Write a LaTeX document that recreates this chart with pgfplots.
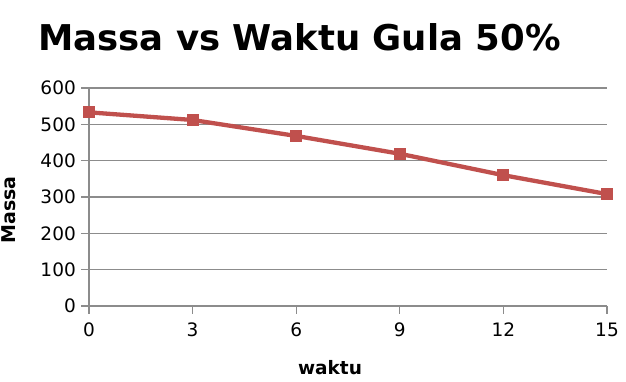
\documentclass[border=0pt]{standalone}
\usepackage{fontspec}
\setmainfont{DejaVu Sans}
\usepackage{pgfplots}
\pgfplotsset{compat=1.18}
\definecolor{serred}{HTML}{C0504D}
\definecolor{gridgray}{HTML}{8C8C8C}
\begin{document}
\begin{tikzpicture}
\useasboundingbox (0,0) rectangle (626bp,382bp);
\begin{axis}[
  at={(89bp,76bp)}, anchor=south west,
  scale only axis,
  width=518bp, height=218bp,
  xmin=0, xmax=15, ymin=0, ymax=600,
  xtick={0,3,6,9,12,15},
  ytick={0,100,200,300,400,500,600},
  axis line style={gridgray, line width=1.2bp},
  axis x line*=bottom,
  axis y line*=left,
  ymajorgrids,
  major grid style={gridgray, line width=1.2bp},
  tick align=outside,
  major tick length=8bp,
  tick style={gridgray, line width=1.2bp},
  xtick pos=bottom, ytick pos=left,
  /pgf/number format/assume math mode=true,
  tick label style={font=\fontsize{18.5bp}{22bp}\selectfont, text=black},
  yticklabel style={inner sep=0pt, xshift=-5bp},
  xticklabel style={inner sep=0pt, yshift=-9bp},
  clip=false,
]
\addplot[serred, line width=4.3bp, mark=square*, mark size=5.5bp,
  mark options={fill=serred, draw=serred, line width=0pt}]
  coordinates {(0,533) (3,512) (6,468) (9,419) (12,360) (15,308)};
\end{axis}
\node[anchor=west, inner sep=0pt, font=\fontsize{35.5bp}{40bp}\selectfont\bfseries] at (38bp,345bp) {Massa vs Waktu Gula 50\%};
\node[inner sep=0pt, font=\fontsize{18.5bp}{22bp}\selectfont\bfseries] at (330bp,14bp) {waktu};
\node[rotate=90, inner sep=0pt, font=\fontsize{19bp}{22bp}\selectfont\bfseries] at (9bp,172bp) {Massa};
\end{tikzpicture}
\end{document}
